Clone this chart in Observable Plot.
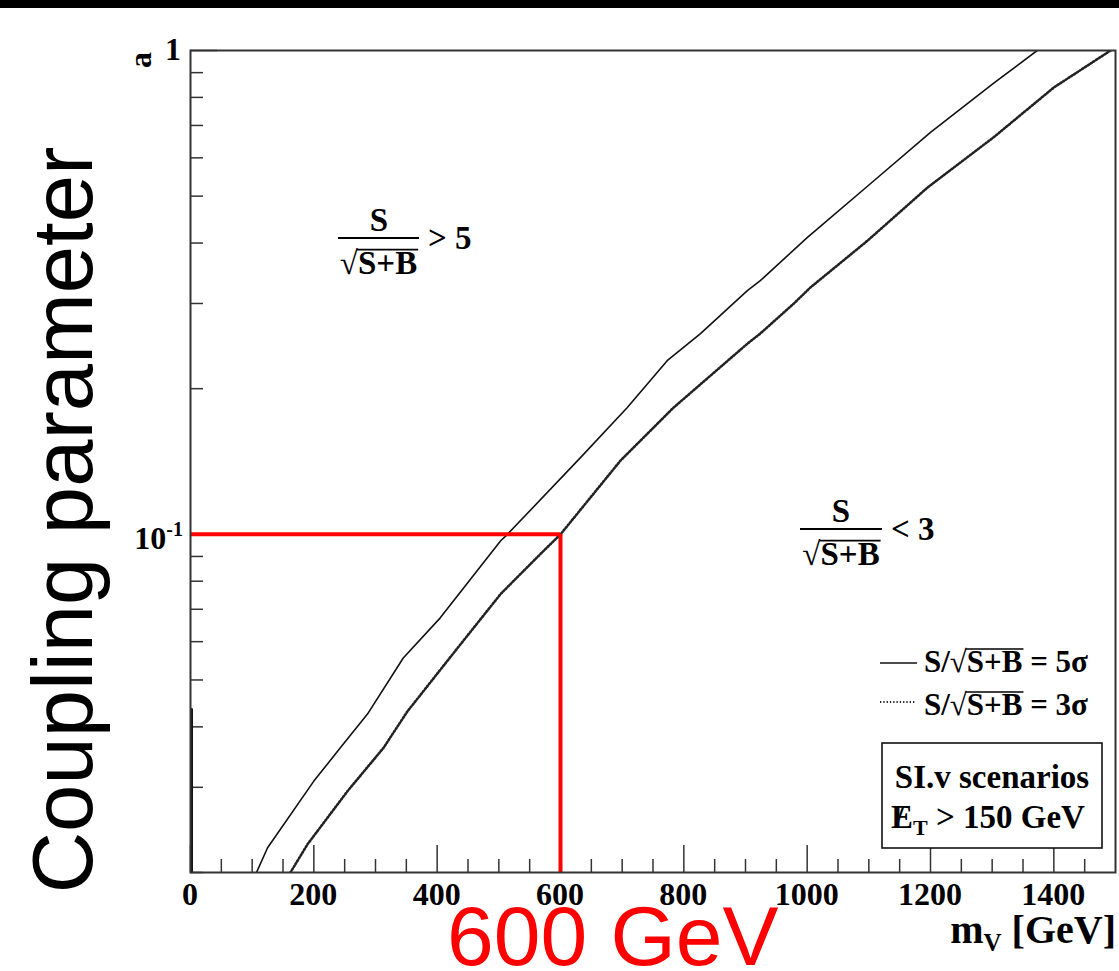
<!DOCTYPE html>
<html><head><meta charset="utf-8">
<script src="https://cdn.jsdelivr.net/npm/d3@7"></script>
<script src="https://cdn.jsdelivr.net/npm/@observablehq/plot@0.6"></script>
<style>
body{margin:0;background:#fff;}
#bar{height:8px;background:#000;}
svg{display:block}
</style></head><body>
<div id="bar"></div>
<div id="chart"></div>
<script>
// 5 sigma contour (solid)
const mass5 = [107,125,200,243,287,345,405,503,514,632,708,773,827,903,924,1000,1103,1200,1302,1373];
const coup5 = [0.02,0.0225,0.0309,0.0362,0.0425,0.0555,0.0672,0.097,0.1,0.1439,0.1826,0.2285,0.26,0.3189,0.3344,0.4104,0.531,0.677,0.855,1.0];
// 3 sigma contour (dotted)
const mass3 = [162,190,255,313,352,433,503,568,600,697,783,903,924,978,1005,1098,1195,1302,1400,1492];
const coup3 = [0.02,0.0229,0.0295,0.0362,0.0431,0.0582,0.0753,0.0912,0.1,0.1419,0.1826,0.2477,0.26,0.2996,0.3235,0.4046,0.5207,0.661,0.8386,1.0];
// small artefact at the left edge of the solid curve
const edgeMass = [2,2,20];
const edgeCoup = [0.0435,0.0199,0.0199];
// highlighted point
const markMass = [600];
const markCoup = [0.1];
// ticks
const xMajor = [0,200,400,600,800,1000,1200,1400];
const xMinor = [50,100,150,250,300,350,450,500,550,650,700,750,850,900,950,1050,1100,1150,1250,1300,1350,1450];
const yMajor = [1,0.1];
const yMinor = [0.02,0.03,0.04,0.05,0.06,0.07,0.08,0.09,0.2,0.3,0.4,0.5,0.6,0.7,0.8,0.9];

const d5 = mass5.map((m,i)=>({m, a:coup5[i]}));
const d3s = mass3.map((m,i)=>({m, a:coup3[i]}));
const dEdge = edgeMass.map((m,i)=>({m, a:edgeCoup[i]}));

const plot = Plot.plot({
  width:1119, height:963,
  marginLeft:190, marginRight:4, marginTop:42, marginBottom:99,
  style:{background:"transparent", overflow:"visible"},
  x:{domain:[0,1500]},
  y:{type:"log", domain:[0.02,1]},
  marks:[
    Plot.axisX({ticks:xMinor, tickSize:13, dy:-13, tickFormat:()=>"", label:null, stroke:"#333", strokeWidth:1.5}),
    Plot.axisX({ticks:xMajor, tickSize:27, dy:-27, tickFormat:()=>"", label:null, stroke:"#333", strokeWidth:1.5}),
    Plot.axisY({ticks:yMinor, tickSize:13, dx:13, tickFormat:()=>"", label:null, stroke:"#333", strokeWidth:1.5}),
    Plot.axisY({ticks:yMajor, tickSize:27, dx:27, tickFormat:()=>"", label:null, stroke:"#333", strokeWidth:1.5}),
    Plot.line(dEdge, {x:"m", y:"a", stroke:"#111", strokeWidth:2.5, clip:true}),
    Plot.line(d5, {x:"m", y:"a", stroke:"#111", strokeWidth:1.6, clip:true}),
    Plot.line(d3s, {x:"m", y:"a", stroke:"#222", strokeWidth:2.6, strokeDasharray:"1.3,2", clip:true}),
    Plot.ruleX(markMass, {y1:0.02, y2:markCoup[0], stroke:"#ff0000", strokeWidth:4}),
    Plot.ruleY(markCoup, {x1:0, x2:markMass[0], stroke:"#ff0000", strokeWidth:4}),
    Plot.frame({stroke:"#333", strokeWidth:2})
  ]
});
document.getElementById("chart").appendChild(plot);

const svg = d3.select(plot);
const sx = plot.scale("x").apply, sy = plot.scale("y").apply;
const SERIF = "'Liberation Serif','Times New Roman',serif";
const SANS = "'Liberation Sans',Arial,sans-serif";
function txt(x, y, s, fs, opts={}) {
  const t = svg.append("text").attr("x", x).attr("y", y)
    .attr("font-family", opts.family || SERIF)
    .attr("font-weight", opts.weight || "bold")
    .attr("font-size", fs)
    .attr("fill", opts.fill || "#000")
    .attr("text-anchor", opts.anchor || "start");
  if (s !== null) t.text(s);
  return t;
}

// x tick labels
const yb = sy(0.02);
xMajor.forEach(v => txt(sx(v), yb + 33, String(v), 32, {anchor:"middle"}));
// y tick labels
txt(181, sy(1) + 10, "1", 32, {anchor:"end"});
{
  const t = txt(183, sy(0.1) + 15, null, 32, {anchor:"end"});
  t.append("tspan").text("10");
  t.append("tspan").attr("font-size", 20).attr("dy", -13).text("-1");
}
// y title "a"
svg.append("text").attr("transform", `translate(151,44) rotate(-90)`)
  .attr("font-family", SERIF).attr("font-weight","bold").attr("font-size", 32)
  .attr("text-anchor","end").text("a");
// x title
{
  const t = txt(1116, 935, null, 40, {anchor:"end"});
  t.append("tspan").text("m");
  t.append("tspan").attr("font-size", 25).attr("dy", 8).text("V");
  t.append("tspan").attr("dy", -8).text(" [GeV]");
}

// overline helper for sqrt
function overline(t, i0, i1, base, fs) {
  const node = t.node();
  const a = node.getStartPositionOfChar(i0).x - 1;
  const b = node.getEndPositionOfChar(i1).x + 1;
  svg.append("line").attr("x1", a).attr("x2", b)
    .attr("y1", base - 0.74*fs).attr("y2", base - 0.74*fs)
    .attr("stroke", "#000").attr("stroke-width", 1.6);
}

// fraction annotations
function fraction(cx, barY, x0, x1, rel, fs) {
  txt(cx, barY - 7, "S", fs, {anchor:"middle"});
  svg.append("line").attr("x1", x0).attr("x2", x1).attr("y1", barY).attr("y2", barY)
    .attr("stroke","#000").attr("stroke-width", 2);
  const base = barY + 36;
  const d = txt((x0 + x1) / 2, base, "\u221AS+B", fs, {anchor:"middle"});
  overline(d, 1, 3, base, fs);
  txt(x1 + 9, barY + 11, rel, fs);
}
fraction(379, 230, 338, 419, "> 5", 33);
fraction(841, 521, 800, 882, "< 3", 33);

// legend
{
  const fs = 31;
  svg.append("line").attr("x1", 880).attr("x2", 917).attr("y1", 655).attr("y2", 655)
    .attr("stroke","#111").attr("stroke-width", 1.6);
  const t1 = txt(924, 664, "S/\u221AS+B = 5\u03C3", fs);
  overline(t1, 3, 5, 664, fs);
  svg.append("line").attr("x1", 880).attr("x2", 915).attr("y1", 694).attr("y2", 694)
    .attr("stroke","#222").attr("stroke-width", 2.2).attr("stroke-dasharray","1.3,2");
  const t2 = txt(924, 707, "S/\u221AS+B = 3\u03C3", fs);
  overline(t2, 3, 5, 707, fs);
}

// scenario box
{
  svg.append("rect").attr("x", 882).attr("y", 735).attr("width", 220).attr("height", 105)
    .attr("fill","#fff").attr("stroke","#111").attr("stroke-width", 1.6);
  txt(992, 780, "SI.v scenarios", 33, {anchor:"middle"});
  const t = txt(988, 820, null, 33, {anchor:"middle"});
  t.append("tspan").text("E");
  t.append("tspan").attr("font-size", 22).attr("dy", 7).text("T");
  t.append("tspan").attr("dy", -7).text(" > 150 GeV");
  const ex = t.node().getStartPositionOfChar(0).x;
  txt(ex + 4, 820, "/", 33, {});
}

// big overlaid labels
svg.append("text").attr("transform", "translate(92,512) rotate(-90)")
  .attr("font-family", SANS).attr("font-size", 85).attr("text-anchor","middle")
  .attr("fill","#000").text("Coupling parameter");
txt(447, 957, "600 GeV", 84, {family:SANS, weight:"normal", fill:"#ff0000"});
</script>
</body></html>
